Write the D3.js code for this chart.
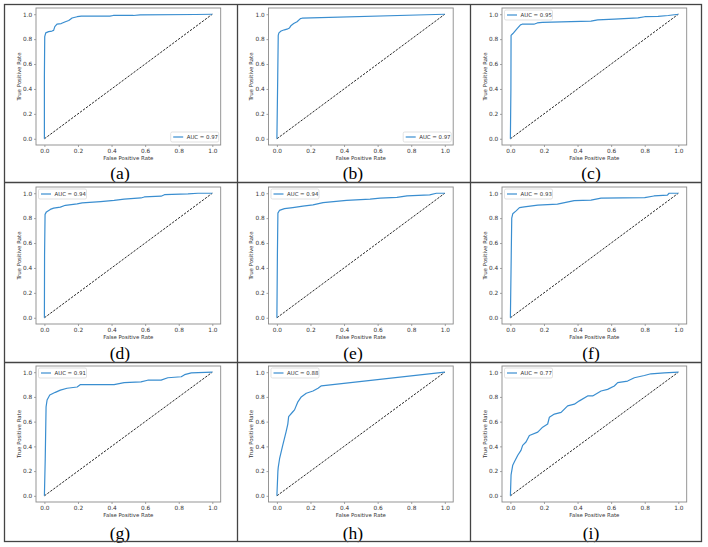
<!DOCTYPE html>
<html><head><meta charset="utf-8">
<script src="https://cdn.jsdelivr.net/npm/d3@7"></script>
<style>body{margin:0;background:#fff}svg{display:block}</style>
</head><body>
<svg id="chart" width="708" height="547"></svg>
<script>
// ---------- data ----------
const panelLabels = ["(a)", "(b)", "(c)", "(d)", "(e)", "(f)", "(g)", "(h)", "(i)"];
const aucLabels = ["AUC = 0.97", "AUC = 0.97", "AUC = 0.95", "AUC = 0.94", "AUC = 0.94", "AUC = 0.93", "AUC = 0.91", "AUC = 0.88", "AUC = 0.77"];
const legendCorners = ["lower right", "lower right", "upper left", "upper left", "upper left", "upper left", "upper left", "upper left", "upper left"];
const tickValues = [0, 0.2, 0.4, 0.6, 0.8, 1.0];
const xAxisTitle = "False Positive Rate";
const yAxisTitle = "True Positive Rate";

// ROC points [FPR, TPR]
const rocA = [[0,0],[0,0.5],[0.002,0.82],[0.008,0.85],[0.025,0.86],[0.045,0.865],[0.055,0.87],[0.062,0.9],[0.075,0.92],[0.1,0.925],[0.125,0.94],[0.145,0.95],[0.165,0.97],[0.195,0.98],[0.22,0.985],[0.39,0.985],[0.41,0.99],[0.53,0.99],[0.57,0.995],[0.9,0.998],[1,1]];
const rocB = [[0,0],[0.005,0.5],[0.008,0.83],[0.012,0.85],[0.025,0.865],[0.045,0.875],[0.06,0.88],[0.075,0.89],[0.085,0.91],[0.1,0.925],[0.12,0.94],[0.14,0.965],[0.15,0.968],[1,1]];
const rocC = [[0,0],[0.003,0.4],[0.004,0.83],[0.015,0.845],[0.04,0.885],[0.06,0.915],[0.07,0.92],[0.14,0.92],[0.16,0.93],[0.19,0.935],[0.36,0.94],[0.48,0.945],[0.52,0.955],[0.62,0.96],[0.76,0.97],[0.8,0.98],[0.88,0.982],[0.94,0.99],[1,1]];
const rocD = [[0,0],[0.001,0.5],[0.004,0.83],[0.012,0.85],[0.035,0.87],[0.055,0.88],[0.095,0.888],[0.125,0.903],[0.195,0.914],[0.225,0.922],[0.335,0.933],[0.415,0.943],[0.475,0.953],[0.575,0.962],[0.595,0.97],[0.695,0.976],[0.715,0.988],[0.855,0.995],[0.915,1],[1,1]];
const rocE = [[0,0],[0.003,0.5],[0.006,0.84],[0.015,0.862],[0.045,0.876],[0.095,0.885],[0.155,0.897],[0.215,0.906],[0.275,0.924],[0.415,0.943],[0.555,0.952],[0.615,0.96],[0.715,0.966],[0.775,0.978],[0.91,0.987],[0.95,1],[1,1]];
const rocF = [[0,0],[0.005,0.5],[0.008,0.8],[0.014,0.835],[0.034,0.858],[0.054,0.884],[0.083,0.89],[0.163,0.905],[0.28,0.912],[0.38,0.94],[0.48,0.944],[0.54,0.96],[0.8,0.965],[0.855,0.978],[0.935,0.985],[0.945,1],[1,1]];
const rocG = [[0,0],[0.005,0.3],[0.01,0.72],[0.016,0.775],[0.032,0.815],[0.065,0.837],[0.095,0.855],[0.135,0.87],[0.195,0.88],[0.215,0.9],[0.415,0.9],[0.475,0.915],[0.575,0.922],[0.615,0.935],[0.695,0.936],[0.735,0.955],[0.815,0.963],[0.835,0.98],[0.875,0.995],[1,1]];
const rocH = [[0,0],[0.006,0.2],[0.008,0.23],[0.016,0.3],[0.035,0.41],[0.055,0.52],[0.065,0.58],[0.07,0.64],[0.095,0.68],[0.105,0.695],[0.125,0.76],[0.145,0.8],[0.175,0.83],[0.215,0.848],[0.245,0.87],[0.265,0.89],[1,1]];
const rocI = [[0,0],[0.004,0.17],[0.014,0.248],[0.024,0.275],[0.044,0.328],[0.063,0.368],[0.073,0.408],[0.093,0.435],[0.113,0.488],[0.163,0.515],[0.192,0.555],[0.222,0.581],[0.232,0.635],[0.262,0.661],[0.302,0.675],[0.341,0.728],[0.381,0.741],[0.411,0.768],[0.46,0.808],[0.49,0.808],[0.54,0.848],[0.579,0.861],[0.619,0.888],[0.639,0.915],[0.698,0.928],[0.738,0.955],[0.798,0.973],[0.837,0.987],[0.917,0.995],[1,1]];
const rocCurves = [rocA, rocB, rocC, rocD, rocE, rocF, rocG, rocH, rocI];

// ---------- layout ----------
const svg = d3.select("#chart");
const colEdges = [4.5, 237.5, 470.5, 701.5];
const rowEdges = [4.5, 182.5, 362.5, 541.5];
const boxLeft = [36, 268.5, 502];
const boxTop = [8, 187, 366];
const boxW = 184.7;
const boxH = [137, 137, 136];
const labelX = [120, 353, 591];
const labelY = [179, 359, 539];
const small = 5.8;

svg.append("rect").attr("width", 708).attr("height", 547).attr("fill", "#fff");

rocCurves.forEach((pts, i) => {
  const c = i % 3, r = Math.floor(i / 3);
  const L = boxLeft[c], T = boxTop[r], W = boxW, H = boxH[r];
  const x = d3.scaleLinear().domain([-0.05, 1.05]).range([L, L + W]);
  const y = d3.scaleLinear().domain([-0.05, 1.05]).range([T + H, T]);
  const g = svg.append("g");

  const xa = g.append("g").attr("transform", `translate(0,${T + H})`)
    .call(d3.axisBottom(x).tickValues(tickValues).tickFormat(d3.format(".1f")).tickSize(2).tickPadding(1.5));
  const ya = g.append("g").attr("transform", `translate(${L},0)`)
    .call(d3.axisLeft(y).tickValues(tickValues).tickFormat(d3.format(".1f")).tickSize(2).tickPadding(1.8));
  [xa, ya].forEach(a => {
    a.select(".domain").remove();
    a.selectAll("line").attr("stroke", "#666").attr("stroke-width", 0.6);
    a.selectAll("text").attr("font-family", "DejaVu Sans").attr("font-size", small).attr("fill", "#333");
  });

  g.append("line").attr("x1", x(0)).attr("y1", y(0)).attr("x2", x(1)).attr("y2", y(1))
    .attr("stroke", "#111").attr("stroke-width", 0.9).attr("stroke-dasharray", "2.4,1.3");

  g.append("path").datum(pts)
    .attr("d", d3.line().x(d => x(d[0])).y(d => y(d[1])))
    .attr("fill", "none").attr("stroke", "#3a8ed0").attr("stroke-width", 1.2)
    .attr("stroke-linejoin", "round");

  g.append("rect").attr("x", L).attr("y", T).attr("width", W).attr("height", H)
    .attr("fill", "none").attr("stroke", "#8a8a8a").attr("stroke-width", 0.9);

  g.append("text").attr("x", L + W / 2).attr("y", T + H + 14.5)
    .attr("text-anchor", "middle").attr("font-family", "DejaVu Sans").attr("font-size", 5.4).attr("fill", "#333")
    .text(xAxisTitle);
  g.append("text").attr("transform", `translate(${L - 15.5},${T + H / 2}) rotate(-90)`)
    .attr("text-anchor", "middle").attr("font-family", "DejaVu Sans").attr("font-size", 5.4).attr("fill", "#333")
    .text(yAxisTitle);

  const lw = 48, lh = 10;
  const lx = legendCorners[i] === "lower right" ? L + W - lw - 2 : L + 2.5;
  const ly = legendCorners[i] === "lower right" ? T + H - lh - 3 : T + 2;
  const lg = g.append("g").attr("transform", `translate(${lx},${ly})`);
  lg.append("rect").attr("width", lw).attr("height", lh).attr("rx", 1.5)
    .attr("fill", "#fff").attr("stroke", "#cfcfcf").attr("stroke-width", 0.6);
  lg.append("line").attr("x1", 2.5).attr("x2", 12.5).attr("y1", lh / 2).attr("y2", lh / 2)
    .attr("stroke", "#3a8ed0").attr("stroke-width", 1.2);
  lg.append("text").attr("x", 16).attr("y", lh / 2).attr("dy", "0.35em")
    .attr("font-family", "DejaVu Sans").attr("font-size", 5.4).attr("fill", "#333")
    .text(aucLabels[i]);

  svg.append("text").attr("x", labelX[c]).attr("y", labelY[r])
    .attr("text-anchor", "middle").attr("font-family", "Liberation Serif").attr("font-size", 17.5).attr("fill", "#000")
    .text(panelLabels[i]);
});

const grid = svg.append("g").attr("stroke", "#444").attr("stroke-width", 1.3).attr("fill", "none");
grid.append("rect").attr("x", colEdges[0]).attr("y", rowEdges[0])
  .attr("width", colEdges[3] - colEdges[0]).attr("height", rowEdges[3] - rowEdges[0]);
[1, 2].forEach(k => {
  grid.append("line").attr("x1", colEdges[k]).attr("x2", colEdges[k]).attr("y1", rowEdges[0]).attr("y2", rowEdges[3]);
  grid.append("line").attr("y1", rowEdges[k]).attr("y2", rowEdges[k]).attr("x1", colEdges[0]).attr("x2", colEdges[3]);
});
</script>
</body></html>
